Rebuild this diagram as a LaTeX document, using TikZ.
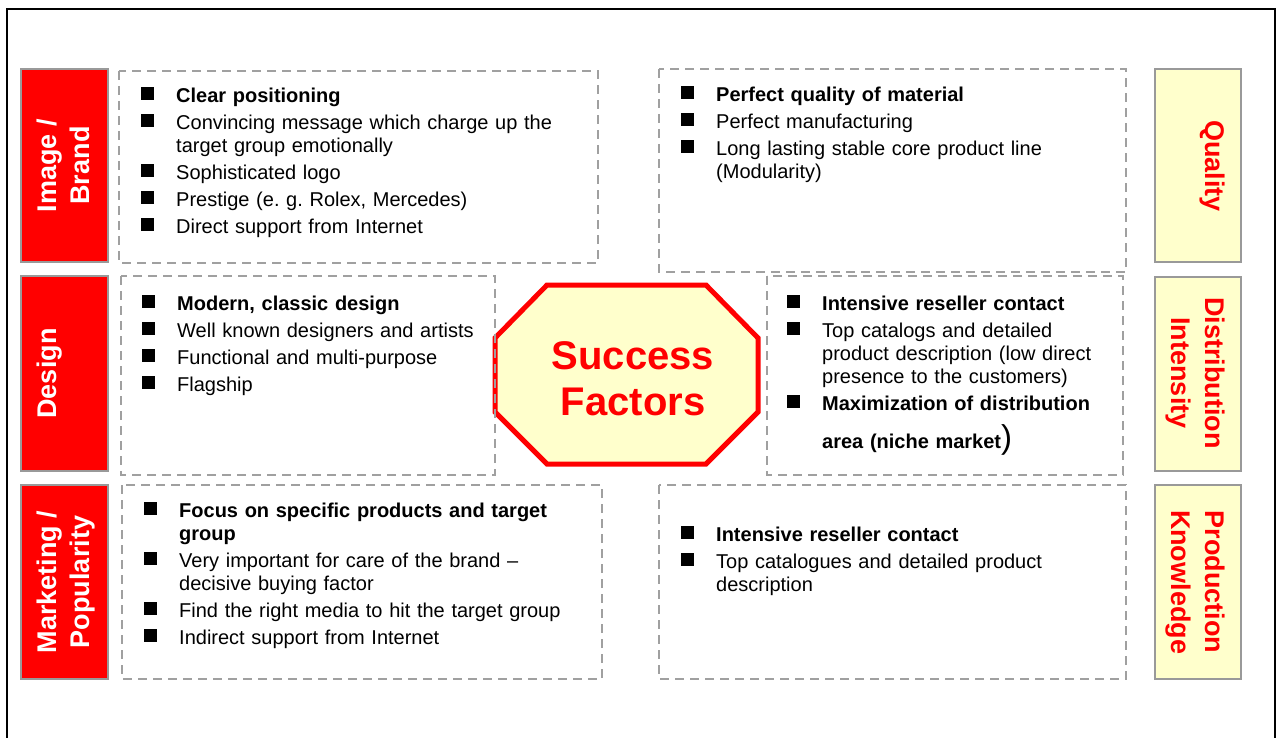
\documentclass[tikz,border=0pt]{standalone}
\usepackage{fontspec}
\setmainfont{Liberation Sans}
\usepackage{tikz}
\frenchspacing

\definecolor{softyellow}{HTML}{FFFFCC}
\definecolor{framegray}{HTML}{999999}
\definecolor{dashgray}{HTML}{A0A0A0}

% one bullet line with hanging indent
\newcommand{\bitem}[1]{\hangindent=35pt\hangafter=1\noindent\makebox[35pt][l]{\raisebox{2.5pt}{\rule{13pt}{13pt}}}\strut#1\par\vspace{4pt}}
% line break inside a bullet
\newcommand{\nl}{\hfil\break}

\begin{document}
\begin{tikzpicture}[x=1pt,y=-1pt,
    catbox/.style={fill=red, draw=framegray, line width=2.5pt},
    keybox/.style={fill=softyellow, draw=framegray, line width=2.5pt},
    listbox/.style={draw=dashgray, line width=2pt, dash pattern=on 9pt off 6pt},
    listtext/.style={anchor=base west, inner sep=0pt, text width=500pt, font=\fontsize{20}{23}\selectfont},
    catlabel/.style={rotate=90, anchor=north, inner sep=0pt, align=center, text=white, font=\bfseries\fontsize{27}{33}\selectfont},
    keylabel/.style={rotate=-90, anchor=north, inner sep=0pt, align=center, text=red, font=\bfseries\fontsize{27}{34}\selectfont}]
    \useasboundingbox (0,0) rectangle (1277,738);

    % Frame
    \draw[black, line width=2pt] (7,738) -- (7,9) -- (1275,9) -- (1275,738);

    % Left categories
    \filldraw[catbox] (21,69) rectangle (108,262);
    \filldraw[catbox] (21,276) rectangle (108,471);
    \filldraw[catbox] (21,485) rectangle (108,679);
    \node[catlabel] (image) at (37,165.5) {Image /\\Brand};
    \node[catlabel] (design) at (37,373.5) {Design};
    \node[catlabel] (marketing) at (37,582) {Marketing /\\Popularity};

    % Right categories
    \filldraw[keybox] (1155,69) rectangle (1241,262);
    \filldraw[keybox] (1155,277) rectangle (1241,471);
    \filldraw[keybox] (1155,485) rectangle (1241,679);
    \node[keylabel] (quality) at (1225,166) {Quality};
    \node[keylabel] (distribution) at (1225,373) {Distribution\\Intensity};
    \node[keylabel] (production) at (1225,582) {Production\\Knowledge};

    % Octagon
    \filldraw[fill=softyellow, draw=red, line width=5pt, line join=miter]
        (547,285) -- (706,285) -- (758,338) -- (758,412) -- (706,464)
        -- (547,464) -- (495,412) -- (495,338) -- cycle;
    \node[text=red, align=center, inner sep=0pt, font=\bfseries\fontsize{40}{46}\selectfont] (success) at (633,379) {Success\\Factors};

    % Dashed boxes
    \draw[listbox] (119,71) rectangle (598,263);
    \draw[listbox] (659,69) rectangle (1126,272);
    \draw[listbox] (121,276) rectangle (495,475);
    \draw[listbox] (767,276) rectangle (1123,475);
    \draw[listbox] (122,485) rectangle (602,679);
    \draw[listbox] (659,485) rectangle (1126,679);

    % Lists
    \node[listtext] (imagelist) at (141,103) {%
        \bitem{\textbf{Clear positioning}}
        \bitem{Convincing message which charge up the\nl target group emotionally}
        \bitem{Sophisticated logo}
        \bitem{Prestige (e. g. Rolex, Mercedes)}
        \bitem{Direct support from Internet}};
    \node[listtext] (qualitylist) at (681,102) {%
        \bitem{\textbf{Perfect quality of material}}
        \bitem{Perfect manufacturing}
        \bitem{Long lasting stable core product line\nl (Modularity)}};
    \node[listtext] (designlist) at (142,310) {%
        \bitem{\textbf{Modern, classic design}}
        \bitem{Well known designers and artists}
        \bitem{Functional and multi-purpose}
        \bitem{Flagship}};
    \node[listtext] (distlist) at (787,310) {%
        \bitem{\textbf{Intensive reseller contact}}
        \bitem{Top catalogs and detailed\nl product description (low direct\nl presence to the customers)}
        \bitem{\textbf{Maximization of distribution\vadjust{\vskip15pt}\nl area (niche market}\smash{\fontsize{33}{33}\selectfont)}}};
    \node[listtext] (marketinglist) at (144,517) {%
        \bitem{\textbf{Focus on specific products and target\nl group}}
        \bitem{Very important for care of the brand --\nl decisive buying factor}
        \bitem{Find the right media to hit the target group}
        \bitem{Indirect support from Internet}};
    \node[listtext] (productionlist) at (681,541) {%
        \bitem{\textbf{Intensive reseller contact}}
        \bitem{Top catalogues and detailed product\nl description}};
\end{tikzpicture}
\end{document}
